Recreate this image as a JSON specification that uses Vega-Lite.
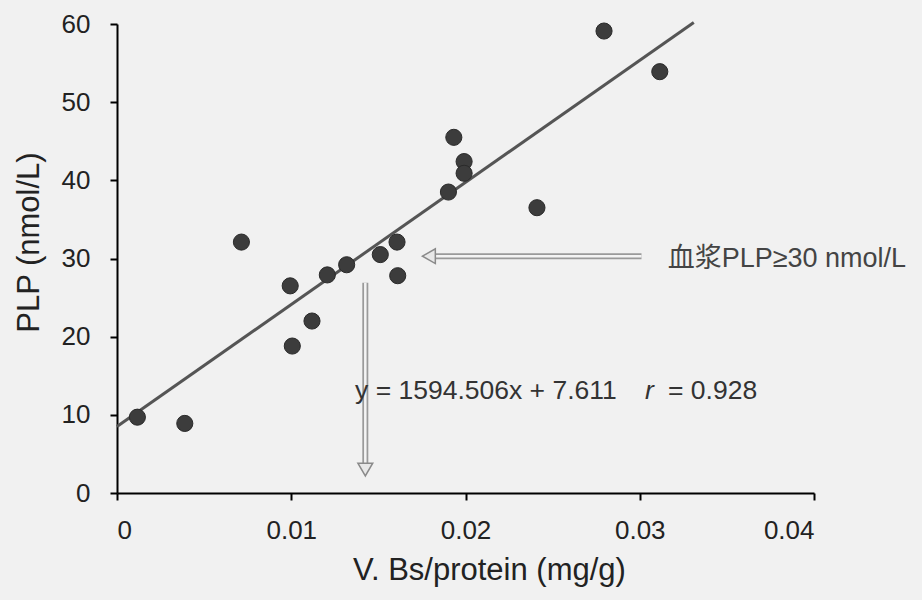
{
  "$schema": "https://vega.github.io/schema/vega-lite/v6.json",
  "autosize": "none",
  "padding": {"left": 117, "top": 24, "right": 108, "bottom": 107},
  "width": 697,
  "height": 469,
  "background": "#f1f1f1",
  "config": {
    "view": {"stroke": null},
    "axis": {
      "grid": false,
      "domainColor": "#000",
      "domainWidth": 2,
      "tickColor": "#000",
      "tickWidth": 2,
      "tickSize": 7,
      "labelFont": "Liberation Sans, Arial, sans-serif",
      "labelFontSize": 26,
      "labelColor": "#222",
      "titleFont": "Liberation Sans, Arial, sans-serif",
      "titleFontSize": 31,
      "titleFontWeight": "normal",
      "titleColor": "#222"
    }
  },
  "layer": [
    {
      "data": {"values": [{"x": 0, "y": 8.5}, {"x": 0.0331, "y": 60.2}]},
      "mark": {"type": "line", "color": "#555", "strokeWidth": 3},
      "encoding": {
        "x": {
          "field": "x", "type": "quantitative",
          "scale": {"domain": [0, 0.04]},
          "axis": {"values": [0, 0.01, 0.02, 0.03, 0.04], "labelPadding": 17, "title": "V. Bs/protein (mg/g)", "titlePadding": 12, "titleX": 372, "labelExpr": "datum.value == 0 ? '0' : format(datum.value, '.2f')"}
        },
        "y": {
          "field": "y", "type": "quantitative",
          "scale": {"domain": [0, 60]},
          "axis": {"values": [0, 10, 20, 30, 40, 50, 60], "labelPadding": 20, "title": "PLP (nmol/L)", "titleX": -79, "titleY": 218, "titleAlign": "center", "titleBaseline": "alphabetic", "titleAngle": 270}
        }
      }
    },
    {
      "data": {"values": [
        {"x": 0.00117, "y": 9.7},
        {"x": 0.00389, "y": 8.9},
        {"x": 0.00714, "y": 32.1},
        {"x": 0.00994, "y": 26.5},
        {"x": 0.01006, "y": 18.8},
        {"x": 0.01119, "y": 22.0},
        {"x": 0.01207, "y": 27.9},
        {"x": 0.01318, "y": 29.2},
        {"x": 0.01511, "y": 30.5},
        {"x": 0.01607, "y": 32.1},
        {"x": 0.01611, "y": 27.8},
        {"x": 0.01902, "y": 38.5},
        {"x": 0.01933, "y": 45.5},
        {"x": 0.01992, "y": 42.4},
        {"x": 0.01992, "y": 40.9},
        {"x": 0.0241, "y": 36.5},
        {"x": 0.02795, "y": 59.1},
        {"x": 0.03115, "y": 53.9}
      ]},
      "mark": {"type": "point", "shape": "circle", "filled": true, "color": "#3c3c3c", "size": 260, "opacity": 1, "stroke": "#2a2a2a", "strokeWidth": 1},
      "encoding": {
        "x": {"field": "x", "type": "quantitative"},
        "y": {"field": "y", "type": "quantitative"}
      }
    },
    {
      "data": {"values": [
        {"x": 0.0301, "x2": 0.0181, "y": 30.3, "y2": 30.3},
        {"x": 0.01425, "x2": 0.01425, "y": 26.9, "y2": 3.6}
      ]},
      "layer": [
        {
          "mark": {"type": "rule", "color": "#9a9a9a", "strokeWidth": 6},
          "encoding": {
            "x": {"field": "x", "type": "quantitative"},
            "x2": {"field": "x2"},
            "y": {"field": "y", "type": "quantitative"},
            "y2": {"field": "y2"}
          }
        },
        {
          "mark": {"type": "rule", "color": "#f4f4f4", "strokeWidth": 2.5},
          "encoding": {
            "x": {"field": "x", "type": "quantitative"},
            "x2": {"field": "x2"},
            "y": {"field": "y", "type": "quantitative"},
            "y2": {"field": "y2"}
          }
        }
      ]
    },
    {
      "data": {"values": [
        {"x": 0.0179, "y": 30.3, "shape": "triangle-left"},
        {"x": 0.01425, "y": 3.0, "shape": "triangle-down"}
      ]},
      "mark": {"type": "point", "filled": true, "fill": "#e8e8e8", "stroke": "#8a8a8a", "strokeWidth": 1.5, "size": 220, "opacity": 1},
      "encoding": {
        "x": {"field": "x", "type": "quantitative"},
        "y": {"field": "y", "type": "quantitative"},
        "shape": {"field": "shape", "type": "nominal", "scale": {"domain": ["triangle-left", "triangle-down"], "range": ["triangle-left", "triangle-down"]}, "legend": null}
      }
    },
    {
      "data": {"values": [
        {"x": 0.0316, "y": 30.0, "label": "血浆PLP≥30 nmol/L"}
      ]},
      "mark": {"type": "text", "align": "left", "baseline": "middle", "font": "Liberation Sans, Noto Sans CJK SC, sans-serif", "fontSize": 27, "color": "#444"},
      "encoding": {
        "x": {"field": "x", "type": "quantitative"},
        "y": {"field": "y", "type": "quantitative"},
        "text": {"field": "label"}
      }
    },
    {
      "data": {"values": [
        {"x": 0.01366, "y": 13.0, "label": "y = 1594.506x + 7.611"},
        {"x": 0.03162, "y": 13.0, "label": "= 0.928"}
      ]},
      "mark": {"type": "text", "align": "left", "baseline": "middle", "font": "Liberation Sans, Arial, sans-serif", "fontSize": 26.5, "color": "#333"},
      "encoding": {
        "x": {"field": "x", "type": "quantitative"},
        "y": {"field": "y", "type": "quantitative"},
        "text": {"field": "label"}
      }
    },
    {
      "data": {"values": [
        {"x": 0.0303, "y": 13.0, "label": "r"}
      ]},
      "mark": {"type": "text", "align": "left", "baseline": "middle", "font": "Liberation Sans, Arial, sans-serif", "fontSize": 26.5, "fontStyle": "italic", "color": "#333"},
      "encoding": {
        "x": {"field": "x", "type": "quantitative"},
        "y": {"field": "y", "type": "quantitative"},
        "text": {"field": "label"}
      }
    }
  ]
}
